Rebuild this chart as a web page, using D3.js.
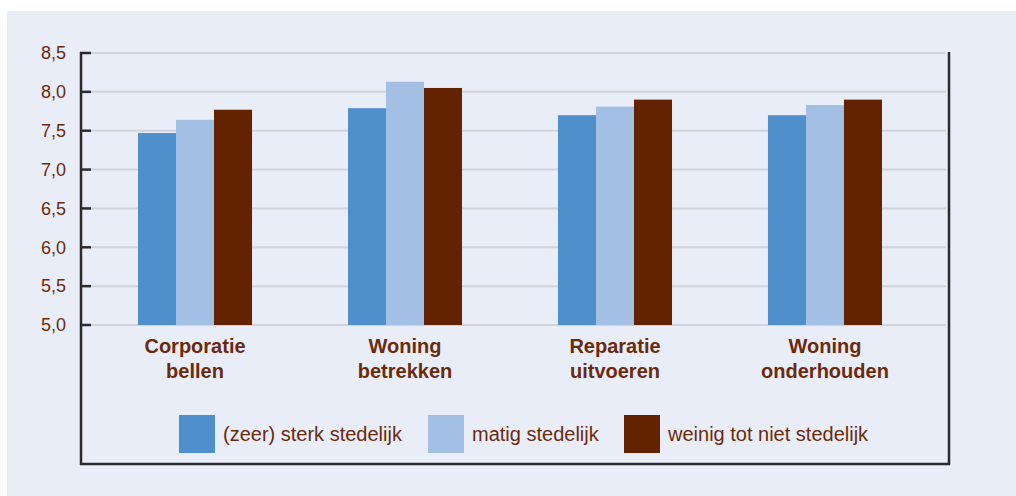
<!DOCTYPE html>
<html>
<head>
<meta charset="utf-8">
<script src="https://cdn.jsdelivr.net/npm/d3@7"></script>
<style>
  html, body { margin: 0; padding: 0; background: #ffffff; }
  svg { display: block; }
  text { font-family: "Liberation Sans", Arial, sans-serif; }
</style>
</head>
<body>
<svg id="chart" width="1016" height="496"></svg>
<script>
const categories = [["Corporatie", "bellen"], ["Woning", "betrekken"], ["Reparatie", "uitvoeren"], ["Woning", "onderhouden"]];
const seriesNames = ["(zeer) sterk stedelijk", "matig stedelijk", "weinig tot niet stedelijk"];
const sterk = [7.47, 7.79, 7.70, 7.70];
const matig = [7.64, 8.13, 7.81, 7.83];
const weinig = [7.77, 8.05, 7.90, 7.90];
const yTicks = [5.0, 5.5, 6.0, 6.5, 7.0, 7.5, 8.0, 8.5];
const colors = ["#4f8fcc", "#a3c0e4", "#632200"];

const series = [sterk, matig, weinig];
const svg = d3.select("#chart");
const textColor = "#6b2a0c";

// panel background
svg.append("rect").attr("x", 7).attr("y", 11).attr("width", 1009).attr("height", 485).attr("fill", "#e9edf8");

const x = d3.scaleBand().domain(d3.range(categories.length)).range([90, 930]).paddingInner(0.457).paddingOuter(0.2286);
const xs = d3.scaleBand().domain(d3.range(series.length)).range([0, x.bandwidth()]);
const y = d3.scaleLinear().domain([5.0, 8.5]).range([325, 53]);

// gridlines
svg.append("g").selectAll("line").data(yTicks).join("line")
  .attr("x1", 91).attr("x2", 946)
  .attr("y1", d => y(d)).attr("y2", d => y(d))
  .attr("stroke", "#d2d3d9").attr("stroke-width", 2);

// bars
const groups = svg.append("g").selectAll("g").data(categories).join("g")
  .attr("transform", (d, i) => `translate(${x(i)},0)`);
groups.selectAll("rect").data((d, i) => series.map((s, j) => ({ j, v: s[i] }))).join("rect")
  .attr("x", d => xs(d.j)).attr("width", xs.bandwidth())
  .attr("y", d => y(d.v)).attr("height", d => y(5.0) - y(d.v))
  .attr("fill", d => colors[d.j]);

// y axis
const yAxis = d3.axisLeft(y).tickValues(yTicks).tickSize(0).tickPadding(14)
  .tickFormat(d => d3.format(".1f")(d).replace(".", ","));
const ya = svg.append("g").attr("transform", "translate(80,0)").call(yAxis);
ya.select(".domain").remove();
ya.selectAll("text").attr("fill", textColor).attr("font-size", 18).attr("font-family", "Liberation Sans, Arial, sans-serif");
svg.append("g").selectAll("line").data(yTicks).join("line")
  .attr("x1", 80).attr("x2", 91)
  .attr("y1", d => y(d)).attr("y2", d => y(d))
  .attr("stroke", "#2b2b2e").attr("stroke-width", 2.5);

// frame lines
svg.append("line").attr("x1", 81).attr("x2", 81).attr("y1", 52).attr("y2", 465).attr("stroke", "#2b2b2e").attr("stroke-width", 2.5);
svg.append("line").attr("x1", 949).attr("x2", 949).attr("y1", 52).attr("y2", 465).attr("stroke", "#2b2b2e").attr("stroke-width", 2.5);
svg.append("line").attr("x1", 80).attr("x2", 950).attr("y1", 464).attr("y2", 464).attr("stroke", "#2b2b2e").attr("stroke-width", 2.5);

// category labels
const cl = svg.append("g").selectAll("text").data(categories).join("text")
  .attr("x", (d, i) => x(i) + x.bandwidth() / 2)
  .attr("text-anchor", "middle")
  .attr("font-size", 20).attr("font-weight", "bold").attr("fill", textColor);
cl.selectAll("tspan").data(d => d).join("tspan")
  .attr("x", function () { return this.parentNode.getAttribute("x"); })
  .attr("y", (d, k) => 353 + k * 25)
  .text(d => d);

// legend
const legendX = [179, 428, 624];
const lg = svg.append("g").selectAll("g").data(seriesNames).join("g")
  .attr("transform", (d, i) => `translate(${legendX[i]},415)`);
lg.append("rect").attr("width", 36).attr("height", 38).attr("fill", (d, i) => colors[i]);
lg.append("text").attr("x", 44).attr("y", 26).attr("font-size", 20).attr("fill", textColor).text(d => d);
</script>
</body>
</html>
